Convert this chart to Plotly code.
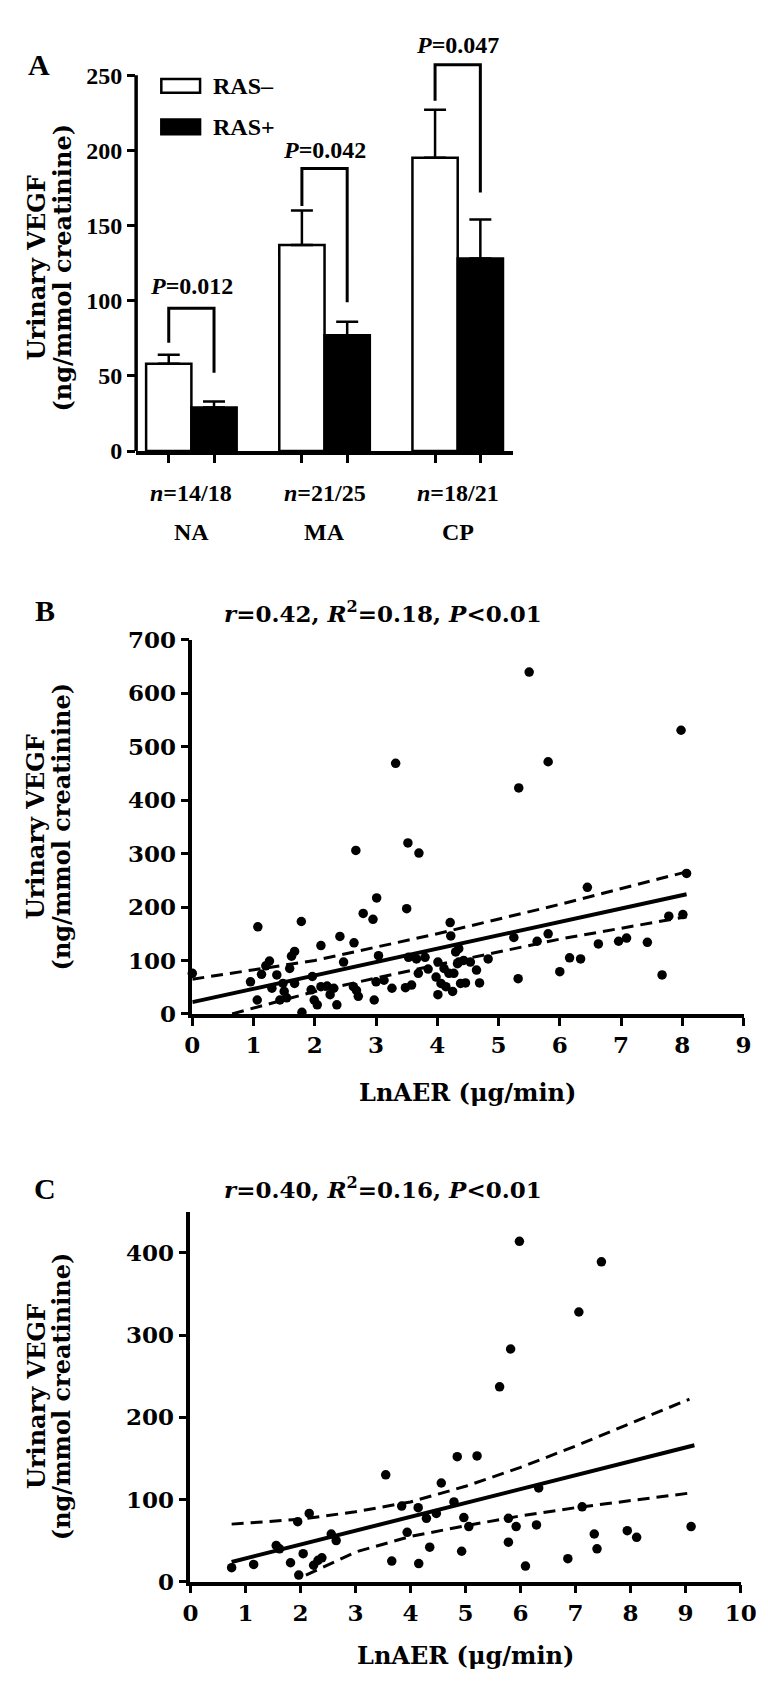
import plotly.graph_objects as go

W, H = 768, 1690
SERIF = "Liberation Serif"
WIDE = "DejaVu Serif"


def fx(v):
    return v / W


def fy(v):
    return 1 - v / H


# ---------------- Panel A data ----------------
groups = ["NA", "MA", "CP"]
n_labels = ["14/18", "21/25", "18/21"]
ras_neg_mean = [58, 137, 195]
ras_neg_err = [6, 23, 32]
ras_pos_mean = [29, 77, 128]
ras_pos_err = [4, 9, 26]
p_values = ["0.012", "0.042", "0.047"]
bracket_left = [72, 163, 233]
bracket_top = [95, 188, 257]
bracket_right = [52, 99, 172]
p_text_y = [110, 200, 270]
a_yticks = [0, 50, 100, 150, 200, 250]

# ---------------- Panel B data ----------------
b_x = [0.0, 1.07, 1.78, 2.67, 3.01, 2.79, 2.95, 3.52, 3.70, 3.50, 4.21, 2.10, 2.41, 2.64,
       1.13, 1.06, 1.26, 1.38, 1.48, 1.30, 1.43, 1.54, 1.62, 1.67, 1.59, 1.67, 1.79, 1.94,
       1.99, 2.04, 2.10, 2.20, 2.31, 2.36, 1.96, 2.47, 2.63, 2.71, 2.68, 2.97, 3.00, 3.13,
       3.26, 3.04, 3.48, 3.58, 3.69, 3.66, 3.53, 3.80, 4.01, 3.98, 4.06, 4.14, 4.25, 4.19,
       4.01, 4.11, 4.33, 4.30, 4.38, 4.22, 5.33, 8.07, 6.45, 5.25, 5.63, 5.81, 6.63, 6.96,
       7.09, 7.43, 7.78, 8.01, 6.16, 6.34, 6.00, 7.67, 5.32, 4.83, 4.64, 4.69, 4.46, 4.35,
       4.27, 4.35, 4.43, 4.54, 5.50, 7.98, 5.81, 3.32, 1.20, 1.50, 0.95, 2.25, 3.85]
b_y = [76, 163, 173, 306, 217, 188, 177, 320, 301, 197, 171, 128, 145, 133,
       74, 26, 99, 73, 57, 48, 26, 30, 108, 117, 85, 57, 3, 45,
       26, 17, 51, 52, 48, 17, 70, 97, 51, 33, 44, 26, 60, 63,
       48, 109, 49, 54, 76, 103, 106, 106, 36, 69, 57, 51, 42, 76,
       97, 85, 94, 116, 57, 146, 423, 263, 237, 143, 136, 150, 131, 136,
       142, 134, 183, 186, 105, 103, 79, 73, 66, 103, 82, 58, 58, 97,
       76, 122, 100, 97, 640, 531, 472, 469, 90, 42, 60, 36, 84]
b_fit_x = [0, 8.07]
b_fit_y = [22, 224]
b_upper_x = [0, 2, 4, 6, 8.07]
b_upper_y = [65, 100, 150, 205, 266]
b_lower_x = [0.65, 2, 4, 6, 8.07]
b_lower_y = [0, 42, 92, 140, 182]
b_xticks = list(range(0, 10))
b_yticks = [0, 100, 200, 300, 400, 500, 600, 700]

# ---------------- Panel C data ----------------
c_x = [0.75, 1.15, 1.56, 1.62, 1.82, 1.97, 2.05, 1.95, 2.16, 2.24, 2.32, 2.39, 2.56, 2.65,
       3.55, 3.66, 3.84, 3.94, 4.14, 4.15, 4.35, 4.29, 4.47, 4.56, 4.79, 4.85, 4.93, 4.97,
       5.06, 5.98, 7.47, 7.06, 5.82, 5.62, 5.21, 6.33, 7.12, 5.78, 5.92, 6.29, 5.78, 6.09,
       6.86, 7.34, 7.39, 7.94, 8.11, 9.10]
c_y = [17, 21, 44, 40, 23, 8, 34, 73, 83, 20, 26, 29, 58, 50,
       130, 25, 92, 60, 90, 22, 42, 77, 83, 120, 97, 152, 37, 78,
       67, 414, 389, 328, 283, 237, 153, 114, 91, 77, 67, 69, 48, 19,
       28, 58, 40, 62, 54, 67]
c_fit_x = [0.75, 9.16]
c_fit_y = [24, 166]
c_upper_x = [0.75, 2, 3, 4, 5, 6, 7, 8, 9.07]
c_upper_y = [70, 76, 85, 97, 116, 139, 165, 193, 222]
c_lower_x = [2.1, 3, 4, 5, 6, 7, 9.1]
c_lower_y = [8, 36, 55, 68, 80, 90, 108]
c_xticks = list(range(0, 11))
c_yticks = [0, 100, 200, 300, 400]

# ---------------- Layout geometry (pixels) ----------------
A_left, A_right, A_bottom, A_top = 124, 513, 436, 8.2
A_range = [0, 280]
A_xrange = [-0.415, 2.415]
B_left, B_right, B_bottom, B_top = 182, 751, 1008, 628
C_left, C_right, C_bottom, C_top = 180, 748, 1585, 1209

bargap = 0.32
bar_w = (1 - bargap) / 2

fig = go.Figure()

# Panel A bars
fig.add_trace(go.Bar(
    x=list(range(len(groups))), y=ras_neg_mean, name="RAS–",
    marker=dict(color="white", line=dict(color="black", width=2.5)),
    error_y=dict(type="data", array=ras_neg_err, arrayminus=[0] * 3, symmetric=False,
                 color="black", thickness=2.5, width=11),
    xaxis="x", yaxis="y", showlegend=False, offsetgroup="neg",
))
fig.add_trace(go.Bar(
    x=list(range(len(groups))), y=ras_pos_mean, name="RAS+",
    marker=dict(color="black", line=dict(color="black", width=2.5)),
    error_y=dict(type="data", array=ras_pos_err, arrayminus=[0] * 3, symmetric=False,
                 color="black", thickness=2.5, width=11),
    xaxis="x", yaxis="y", showlegend=False, offsetgroup="pos",
))

# significance brackets
for i in range(len(groups)):
    xl = i - bar_w / 2
    xr = i + bar_w / 2
    fig.add_trace(go.Scatter(
        x=[xl, xl, xr, xr],
        y=[bracket_left[i], bracket_top[i], bracket_top[i], bracket_right[i]],
        mode="lines", line=dict(color="black", width=3),
        xaxis="x", yaxis="y", showlegend=False, hoverinfo="skip",
    ))

# Panel B
fig.add_trace(go.Scatter(x=b_x, y=b_y, mode="markers",
                         marker=dict(color="black", size=9.5), cliponaxis=False,
                         xaxis="x2", yaxis="y2", showlegend=False))
fig.add_trace(go.Scatter(x=b_fit_x, y=b_fit_y, mode="lines",
                         line=dict(color="black", width=4),
                         xaxis="x2", yaxis="y2", showlegend=False))
for xs, ys in [(b_upper_x, b_upper_y), (b_lower_x, b_lower_y)]:
    fig.add_trace(go.Scatter(x=xs, y=ys, mode="lines",
                             line=dict(color="black", width=3, dash="12px,7px"),
                             xaxis="x2", yaxis="y2", showlegend=False))

# Panel C
fig.add_trace(go.Scatter(x=c_x, y=c_y, mode="markers",
                         marker=dict(color="black", size=9.5), cliponaxis=False,
                         xaxis="x3", yaxis="y3", showlegend=False))
fig.add_trace(go.Scatter(x=c_fit_x, y=c_fit_y, mode="lines",
                         line=dict(color="black", width=4),
                         xaxis="x3", yaxis="y3", showlegend=False))
for xs, ys in [(c_upper_x, c_upper_y), (c_lower_x, c_lower_y)]:
    fig.add_trace(go.Scatter(x=xs, y=ys, mode="lines",
                             line=dict(color="black", width=3, dash="12px,7px"),
                             xaxis="x3", yaxis="y3", showlegend=False))

tickfont_a = dict(family=SERIF, size=24, color="black", weight="bold")
tickfont_bc = dict(family=WIDE, size=23, color="black", weight="bold")
common_axis = dict(showgrid=False, zeroline=False, ticks="outside", ticklen=8,
                   tickwidth=3, tickcolor="black", linecolor="black", linewidth=3.5)

bar_centers = sorted([i - bar_w / 2 for i in range(3)] + [i + bar_w / 2 for i in range(3)])

fig.update_layout(
    width=W, height=H,
    margin=dict(l=0, r=0, t=0, b=0),
    paper_bgcolor="white", plot_bgcolor="white",
    font=dict(family=SERIF, size=22, color="black", weight="bold"),
    barmode="group", bargap=bargap, bargroupgap=0,
    xaxis=dict(domain=[fx(A_left), fx(A_right)], range=A_xrange, anchor="y",
               tickvals=bar_centers, showticklabels=False, showline=True, **common_axis),
    yaxis=dict(domain=[fy(A_bottom), fy(A_top)], range=A_range, anchor="x",
               tickvals=a_yticks, showline=False, tickfont=tickfont_a, **common_axis),
    xaxis2=dict(domain=[fx(B_left), fx(B_right)], range=[0, 9], anchor="y2",
                tickvals=b_xticks, showline=True, tickfont=tickfont_bc, **common_axis),
    yaxis2=dict(domain=[fy(B_bottom), fy(B_top)], range=[0, 700], anchor="x2",
                tickvals=b_yticks, showline=True, tickfont=tickfont_bc, **common_axis),
    xaxis3=dict(domain=[fx(C_left), fx(C_right)], range=[0, 10], anchor="y3",
                tickvals=c_xticks, showline=True, tickfont=tickfont_bc, **common_axis),
    yaxis3=dict(domain=[fy(C_bottom), fy(C_top)], range=[0, 450], anchor="x3",
                tickvals=c_yticks, showline=True, tickfont=tickfont_bc, **common_axis),
)

shapes = []
# Panel A y-axis line stopping at 250
shapes.append(dict(type="line", xref="x domain", yref="y", x0=0, x1=0, y0=0, y1=250,
                   line=dict(color="black", width=3.5)))
# Legend boxes
shapes.append(dict(type="rect", xref="paper", yref="paper",
                   x0=fx(150), x1=fx(190), y0=fy(72), y1=fy(58),
                   fillcolor="white", line=dict(color="black", width=2.5)))
shapes.append(dict(type="rect", xref="paper", yref="paper",
                   x0=fx(150), x1=fx(190), y0=fy(114), y1=fy(99),
                   fillcolor="black", line=dict(color="black", width=2.5)))
fig.update_layout(shapes=shapes)

ann = []


def add_text(text, x, y, size=22, family=SERIF, xanchor="center", angle=0,
             xref="paper", yref="paper"):
    ann.append(dict(text=text, x=x, y=y, xref=xref, yref=yref, showarrow=False,
                    xanchor=xanchor, yanchor="middle", textangle=angle,
                    font=dict(family=family, size=size, color="black", weight="bold")))


# Legend text
add_text("RAS–", fx(201), fy(65), size=24, xanchor="left")
add_text("RAS+", fx(201), fy(107), size=24, xanchor="left")

# P values over brackets and group labels
for i in range(len(groups)):
    add_text("<i>P</i>=" + p_values[i], i, p_text_y[i], size=24, xref="x", yref="y")
    add_text("<i>n</i>=" + n_labels[i], i, fy(479), size=24, xref="x")
    add_text(groups[i], i, fy(518), size=24, xref="x")

# Panel letters
add_text("A", fx(24), fy(43), size=30)
add_text("B", fx(30), fy(598), size=30)
add_text("C", fx(30), fy(1185), size=30)

# Panel titles
add_text("<i>r</i>=0.42, <i>R</i><sup>2</sup>=0.18, <i>P</i><0.01", fx(379), fy(600),
         size=23, family=WIDE)
add_text("<i>r</i>=0.40, <i>R</i><sup>2</sup>=0.16, <i>P</i><0.01", fx(379), fy(1185),
         size=23, family=WIDE)

# Y-axis titles
for cy in [250, (B_top + B_bottom) / 2, (C_top + C_bottom) / 2]:
    add_text("Urinary VEGF", fx(21), fy(cy), size=24, family=WIDE, angle=-90)
    add_text("(ng/mmol creatinine)", fx(47), fy(cy), size=24, family=WIDE, angle=-90)

# X-axis titles
add_text("LnAER (μg/min)", fx((B_left + B_right) / 2), fy(1088), size=24, family=WIDE)
add_text("LnAER (μg/min)", fx((C_left + C_right) / 2), fy(1660), size=24, family=WIDE)

fig.update_layout(annotations=ann)

fig.write_html("out.html")
